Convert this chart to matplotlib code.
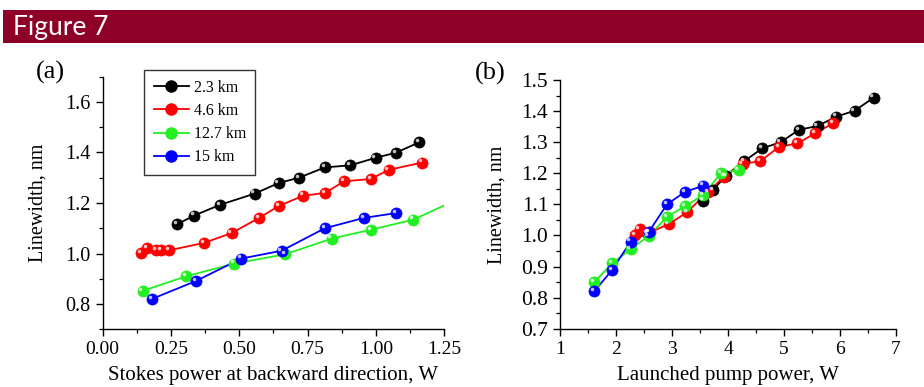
import matplotlib
matplotlib.use("Agg")
import matplotlib.pyplot as plt
from matplotlib.patches import Rectangle
from matplotlib.transforms import offset_copy
from matplotlib.ticker import MultipleLocator, FormatStrFormatter

# ---- data: panel (a), linewidth vs Stokes power (W) ----
labels = ["2.3 km", "4.6 km", "12.7 km", "15 km"]
colors = ["#000000", "#ff0000", "#22ee22", "#0000ff"]

a_x_23 = [0.273, 0.334, 0.430, 0.556, 0.644, 0.718, 0.813, 0.906, 0.999, 1.073, 1.158]
a_y_23 = [1.116, 1.150, 1.193, 1.237, 1.279, 1.300, 1.341, 1.349, 1.379, 1.399, 1.440]
a_x_46 = [0.141, 0.162, 0.195, 0.214, 0.244, 0.371, 0.472, 0.572, 0.646, 0.734, 0.815,
          0.883, 0.981, 1.046, 1.169]
a_y_46 = [1.001, 1.021, 1.013, 1.013, 1.013, 1.042, 1.081, 1.141, 1.189, 1.229, 1.240,
          1.286, 1.295, 1.331, 1.360]
a_x_127 = [0.146, 0.306, 0.482, 0.668, 0.838, 0.981, 1.137, 1.350]
a_y_127 = [0.852, 0.910, 0.960, 0.997, 1.059, 1.094, 1.134, 1.240]
a_x_15 = [0.180, 0.341, 0.507, 0.655, 0.813, 0.956, 1.073]
a_y_15 = [0.820, 0.891, 0.980, 1.011, 1.100, 1.141, 1.160]

# ---- data: panel (b), linewidth vs launched pump power (W) ----
b_x_23 = [3.56, 3.73, 3.96, 4.29, 4.61, 4.94, 5.27, 5.60, 5.93, 6.26, 6.60]
b_y_23 = [1.112, 1.145, 1.192, 1.239, 1.280, 1.300, 1.340, 1.352, 1.382, 1.401, 1.443]
b_x_46 = [2.34, 2.42, 2.55, 2.60, 2.94, 3.27, 3.64, 3.93, 4.26, 4.58, 4.91, 5.24, 5.56, 5.88]
b_y_46 = [1.000, 1.020, 1.007, 1.010, 1.036, 1.075, 1.140, 1.189, 1.230, 1.239, 1.285,
          1.296, 1.329, 1.361]
b_x_127 = [1.61, 1.93, 2.26, 2.58, 2.91, 3.23, 3.56, 3.87, 4.19]
b_y_127 = [0.850, 0.910, 0.956, 0.998, 1.060, 1.094, 1.130, 1.200, 1.210]
b_x_15 = [1.61, 1.93, 2.26, 2.58, 2.91, 3.23, 3.56]
b_y_15 = [0.820, 0.889, 0.980, 1.010, 1.100, 1.140, 1.160]

a_series = [(a_x_23, a_y_23), (a_x_46, a_y_46), (a_x_127, a_y_127), (a_x_15, a_y_15)]
b_series = [(b_x_23, b_y_23), (b_x_46, b_y_46), (b_x_127, b_y_127), (b_x_15, b_y_15)]

plt.rcParams["font.family"] = ["Liberation Serif", "DejaVu Serif"]

_HEADER = "#8e0028"
_MS = 8.0


def _shade(ax, x, y, color):
    # sphere-like look: solid disc plus an offset highlight
    ax.plot(x, y, "o", color=color, ms=_MS, mec=color, mew=0.5, zorder=3)
    hl = offset_copy(ax.transData, fig=ax.figure, x=-1.6, y=1.6, units="points")
    ax.plot(x, y, "o", color="white", ms=2.6, mew=0, alpha=0.75, transform=hl, zorder=4)


def _style(ax, xsize, ysize):
    ax.spines["top"].set_visible(False)
    ax.spines["right"].set_visible(False)
    for s in ("left", "bottom"):
        ax.spines[s].set_linewidth(1.0)
    ax.tick_params(which="major", direction="out", length=5, width=1.0)
    ax.tick_params(axis="x", labelsize=xsize)
    ax.tick_params(axis="y", labelsize=ysize)
    ax.tick_params(which="minor", direction="out", length=3, width=0.9)
    ax.set_ylabel("Linewidth, nm", fontsize=14.5)


fig = plt.figure(figsize=(9.24, 3.87), dpi=100)
fig.patch.set_facecolor("white")

fig.patches.append(Rectangle((3 / 924, 1 - 43 / 387), 1, 33 / 387, transform=fig.transFigure,
                             facecolor=_HEADER, edgecolor="none"))
fig.text(13 / 924, 1 - 27 / 387, "Figure 7", color="white", fontsize=19,
         family=["Lato", "DejaVu Sans"], va="center", ha="left")

# panel (a)
ax1 = fig.add_axes([0.1111, 0.1491, 0.3697, 0.6527])
for (x, y), c in zip(a_series, colors):
    ax1.plot(x, y, "-", color=c, lw=1.3, zorder=2)
    _shade(ax1, x, y, c)
ax1.set_xlim(0, 1.25)
ax1.set_ylim(0.7, 1.7)
ax1.xaxis.set_major_locator(MultipleLocator(0.25))
ax1.xaxis.set_minor_locator(MultipleLocator(0.125))
ax1.xaxis.set_major_formatter(FormatStrFormatter("%.2f"))
ax1.yaxis.set_minor_locator(MultipleLocator(0.1))
ax1.set_yticks([0.8, 1.0, 1.2, 1.4, 1.6])
ax1.yaxis.set_major_formatter(FormatStrFormatter("%.1f"))
_style(ax1, 14, 14.5)
ax1.set_xlabel("Stokes power at backward direction, W", fontsize=15)
ax1.xaxis.set_label_coords(0.5, -0.145)
ax1.yaxis.set_label_coords(-0.160, 0.5)
ax1.text(50 / 924, 1 - 72 / 387, "(a)", transform=fig.transFigure, fontsize=19,
         ha="center", va="center")

handles = [plt.Line2D([], [], color=c, lw=1.3, marker="o", ms=_MS, mec=c) for c in colors]
leg = ax1.legend(handles, labels, loc="upper left", bbox_to_anchor=(0.121, 1.026),
                 fontsize=11.5, frameon=True, fancybox=False, edgecolor="black",
                 handlelength=2.2, handletextpad=0.3, borderpad=0.6, labelspacing=0.45,
                 borderaxespad=0)
leg.get_frame().set_linewidth(1.0)
leg.set_zorder(5)

# panel (b)
ax2 = fig.add_axes([0.6061, 0.1506, 0.3636, 0.6427])
for (x, y), c in zip(b_series, colors):
    ax2.plot(x, y, "-", color=c, lw=1.3, zorder=2)
    _shade(ax2, x, y, c)
ax2.set_xlim(1, 7)
ax2.set_ylim(0.7, 1.5)
ax2.xaxis.set_major_locator(MultipleLocator(1))
ax2.xaxis.set_minor_locator(MultipleLocator(0.5))
ax2.yaxis.set_major_locator(MultipleLocator(0.1))
ax2.yaxis.set_minor_locator(MultipleLocator(0.05))
ax2.yaxis.set_major_formatter(FormatStrFormatter("%.1f"))
_style(ax2, 14, 15.5)
ax2.set_xlabel("Launched pump power, W", fontsize=15)
ax2.xaxis.set_label_coords(0.5, -0.150)
ax2.yaxis.set_label_coords(-0.160, 0.5)
ax2.text(490 / 924, 1 - 73 / 387, "(b)", transform=fig.transFigure, fontsize=19,
         ha="center", va="center")

fig.savefig("out.png", dpi=100, facecolor="white")
